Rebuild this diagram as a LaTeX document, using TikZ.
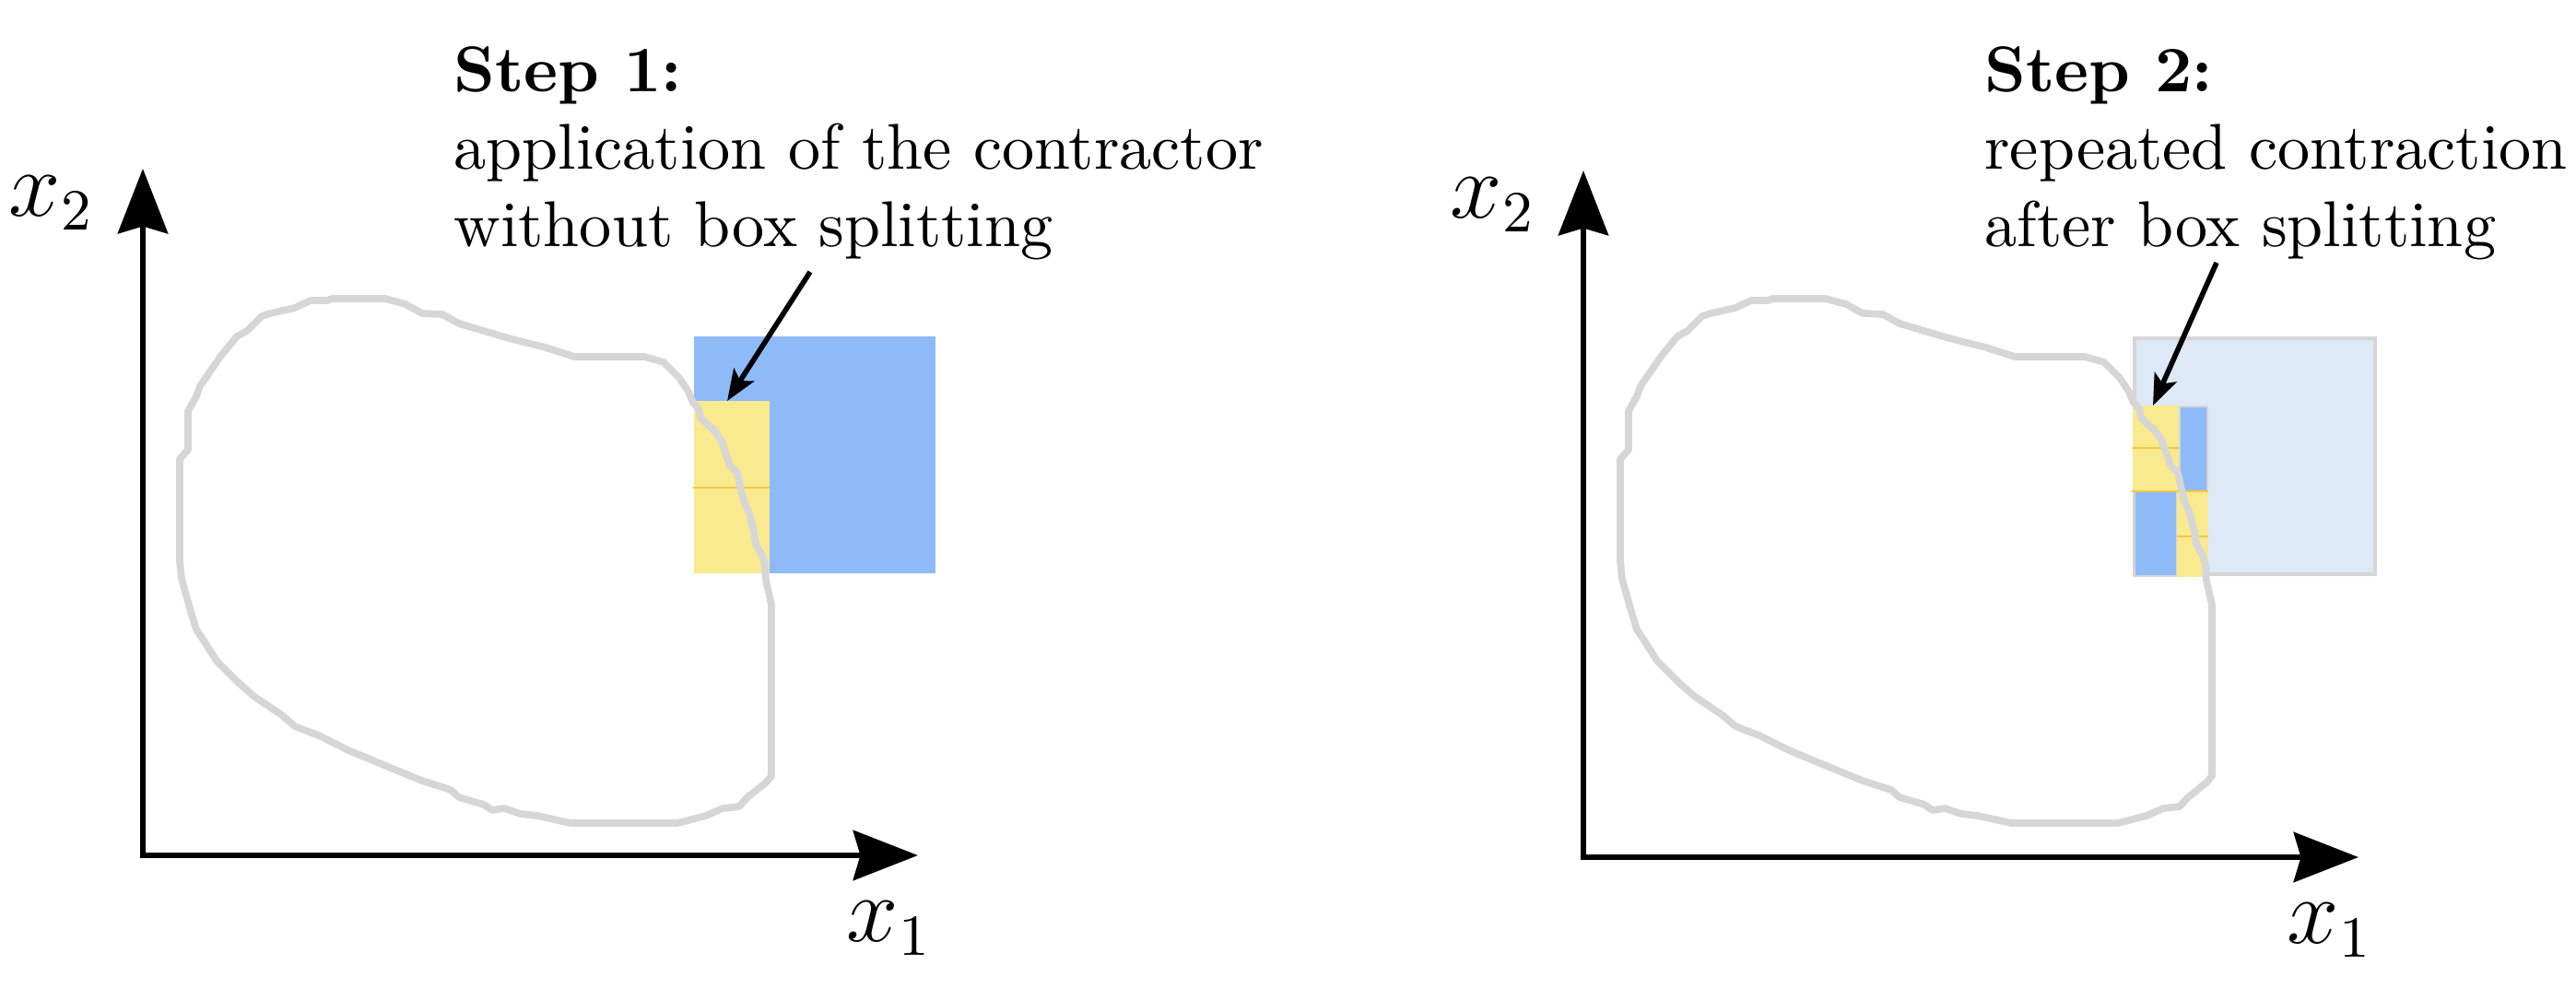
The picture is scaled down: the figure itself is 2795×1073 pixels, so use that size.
\documentclass[tikz,border=0pt]{standalone}
\usetikzlibrary{arrows.meta}
\definecolor{cblue}{RGB}{142,187,247}
\definecolor{cyel}{RGB}{249,233,143}
\definecolor{clight}{RGB}{222,233,247}
\definecolor{cgray}{RGB}{214,214,214}
\definecolor{cyline}{RGB}{243,200,70}
\tikzset{
  axisline/.style={line width=0.9pt, black, {Stealth[length=10pt,width=7.7pt,inset=1.1pt]}-{Stealth[length=10pt,width=7.7pt,inset=1.1pt]}},
  notearrow/.style={line width=0.8pt, black, -{Stealth[length=4.8pt,width=3.7pt,inset=1.1pt]}},
  axlabel/.style={inner sep=0pt, font=\fontsize{13.5}{16}\selectfont},
  steptext/.style={inner sep=0pt, anchor=north west, align=left, font=\normalsize},
  region/.style={draw=cgray, line width=1.1pt, line join=round, line cap=round},
  yelline/.style={draw=cyline, line width=0.2pt},
  cellborder/.style={draw=cgray, line width=0.35pt}
}
\newcommand\myregion{%
  (355,326) -- (360,324) -- (418,324) -- (440,330) -- (458,340) -- (480,341) -- (498,351) -- (552,367) -- (592,377) -- (623,387) -- (699,387) -- (710,390) -- (720,393) -- (727,400) -- (737,410) -- (747,425) -- (752,437) -- (758,443) -- (760,453) -- (767,460) -- (775,467) -- (782,477) -- (788,493) -- (792,505) -- (800,513) -- (803,527) -- (807,543) -- (813,557) -- (818,577) -- (820,590) -- (827,603) -- (830,613) -- (831,630) -- (835,647) -- (837,656) -- (837,842) -- (831,849) -- (811,865) -- (802,875) -- (784,877) -- (766,885) -- (735,893) -- (619,893) -- (583,885) -- (565,883) -- (547,877) -- (534,879) -- (525,873) -- (498,865) -- (489,857) -- (458,847) -- (436,838) -- (378,814) -- (346,798) -- (320,788) -- (306,776) -- (275,755) -- (257,739) -- (235,717) -- (221,695) -- (213,683) -- (206,660) -- (197,628) -- (195,608) -- (195,498) -- (204,488) -- (204,446) -- (213,430) -- (217,419) -- (239,387) -- (257,365) -- (268,359) -- (284,343) -- (293,340) -- (320,334) -- (337,326) -- cycle}
\begin{document}
\begin{tikzpicture}[x=0.005cm, y=-0.005cm]
\useasboundingbox (0,0) rectangle (2795,1073);

% ---------------- Left panel ----------------
\fill[cblue] (753,365) rectangle (1015,622);
\fill[cyel] (753,435) rectangle (835,622);
\draw[yelline] (752,529) -- (835,529);
\draw[region] \myregion;
\coordinate (OL) at (155,928);
\coordinate (yTipL) at (155,183);
\coordinate (xTipL) at (996,928);
\draw[axisline] (yTipL) -- (OL) -- (xTipL);
\node[axlabel] (x2L) at (56,220) {$x_2$};
\node[axlabel] (x1L) at (965,1007) {$x_1$};
\node[steptext] (t1) at (491,49) {\textbf{Step 1:}\\application of the contractor\\without box splitting};
\coordinate (a1from) at (879,295);
\coordinate (a1to) at (789,435);
\draw[notearrow] (a1from) -- (a1to);

% ---------------- Right panel ----------------
\begin{scope}[shift={(1563,0)}]
\filldraw[fill=clight, draw=cgray, line width=0.7pt] (753,367) rectangle (1014,623);
\fill[cyel] (751,440) rectangle (803,533);
\filldraw[fill=cblue, cellborder] (802,441) rectangle (832,533);
\filldraw[fill=cblue, cellborder] (753,533) rectangle (799,625);
\fill[cyel] (799,533) rectangle (833,626);
\draw[yelline] (751,486) -- (802,486);
\draw[yelline] (750,533) -- (833,533);
\draw[yelline] (799,582) -- (833,582);
\draw[region] \myregion;
\coordinate (OR) at (155,930);
\coordinate (yTipR) at (155,185);
\coordinate (xTipR) at (996,930);
\draw[axisline] (yTipR) -- (OR) -- (xTipR);
\node[axlabel] (x2R) at (57,222) {$x_2$};
\node[axlabel] (x1R) at (965,1009) {$x_1$};
\node[steptext] (t2) at (589,49) {\textbf{Step 2:}\\repeated contraction\\after box splitting};
\coordinate (a2from) at (842,285);
\coordinate (a2to) at (773,440);
\draw[notearrow] (a2from) -- (a2to);
\end{scope}
\end{tikzpicture}
\end{document}
